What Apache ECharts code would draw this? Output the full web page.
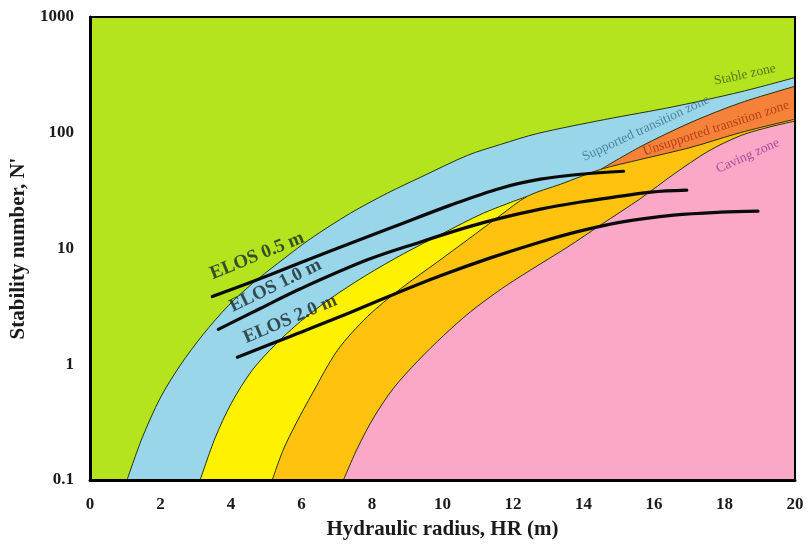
<!DOCTYPE html>
<html>
<head>
<meta charset="utf-8">
<title>Stability graph</title>
<script src="https://cdn.jsdelivr.net/npm/echarts@6/dist/echarts.min.js"></script>
<style>
  html, body { margin: 0; padding: 0; background: #ffffff; }
  #chart { width: 809px; height: 545px; }
</style>
</head>
<body>
<div id="chart"></div>
<script>
// Zone boundaries: [hydraulic radius (m), stability number N']
const stableLower = [
  [1.05, 0.1], [1.48, 0.231], [1.99, 0.509], [2.56, 0.98], [3.21, 1.81], [3.92, 3.2],
  [4.6, 4.96], [5.31, 7.37], [6.25, 12.1], [7.39, 20.2], [8.44, 30.1], [9.38, 41.3],
  [10.71, 63.8], [11.65, 79.3], [12.7, 98.6], [14.6, 130], [16.56, 168], [18.47, 226], [20, 300]
];
const supportedLower = [
  [3.125, 0.1], [3.55, 0.231], [4.01, 0.461], [4.6, 0.887], [5.26, 1.48], [5.97, 2.34],
  [6.82, 3.69], [7.81, 5.81], [8.89, 8.99], [10.03, 13.6], [11.16, 20.2], [12.41, 28.3],
  [13.35, 35.9], [14.49, 48.3], [15.63, 76.2], [17.05, 123], [18.47, 182], [20, 252]
];
const goldUpper = [
  [5.17, 0.1], [5.48, 0.182], [5.85, 0.31], [6.31, 0.562], [7.02, 1.32], [7.87, 2.58],
  [8.81, 4.49], [9.86, 7.67], [10.71, 11.9], [11.65, 19.4], [12.41, 28.3], [13.35, 35.9],
  [14.49, 48.3], [15.63, 58.9], [17.05, 74.8], [18.47, 100.6], [20, 131]
];
const cavingUpper = [
  [7.19, 0.1], [7.59, 0.189], [8.04, 0.343], [8.61, 0.621], [9.29, 1.06], [10.03, 1.77],
  [10.8, 2.85], [11.56, 4.24], [12.02, 5.27], [12.78, 7.37], [13.55, 10.3], [14.49, 16.0],
  [15.63, 27.2], [16.56, 43.8], [17.53, 69.0], [18.47, 94.8], [19.32, 113], [20, 126]
];
// Yellow band ends where it pinches out, orange band begins further right
const yellowEnd = 12.41;
const unsupportedStart = 14.49;

// Equivalent linear overbreak/slough curves
const elos05 = [
  [3.47, 3.84], [5.11, 5.93], [6.82, 9.53], [8.52, 15.0], [10.23, 23.7], [11.65, 33.2],
  [12.78, 39.7], [13.92, 43.8], [15.14, 46.5]
];
const elos10 = [
  [3.64, 2.0], [4.83, 3.03], [5.97, 4.49], [7.87, 7.98], [9.38, 11.4], [10.71, 15.3],
  [11.65, 18.3], [12.78, 21.9], [13.92, 25.2], [15.06, 28.3], [15.91, 30.7], [16.93, 31.9]
];
const elos20 = [
  [4.18, 1.15], [5.68, 1.74], [7.1, 2.58], [8.52, 3.91], [9.94, 5.81], [11.36, 8.3],
  [12.78, 11.4], [13.92, 14.2], [15.06, 16.9], [16.56, 19.4], [17.9, 20.6], [18.95, 21.0]
];

// Annotation texts: [x, y, text, rotation]
const curveLabels = [
  [4.74, 8.63, 'ELOS 0.5 m', 22],
  [5.26, 4.77, 'ELOS 1.0 m', 26],
  [5.68, 2.45, 'ELOS 2.0 m', 23]
];
const zoneLabels = [
  [18.58, 317, 'Stable zone', 12, '#3b5a1c'],
  [15.77, 109, 'Supported transition zone', 25, '#3f6f8f'],
  [17.76, 109, 'Unsupported transition zone', 18, '#a3300f'],
  [18.66, 63, 'Caving zone', 24, '#8b3a8f']
];

const xTicks = { min: 0, max: 20, interval: 2 };
const yTicks = { min: 0.1, max: 1000 };

const SERIF = "'Liberation Serif', 'Times New Roman', serif";
const EDGE = '#26330f';

function zone(name, data, color, z) {
  return {
    name: name, type: 'line', data: data, z: z,
    showSymbol: false, symbol: 'none', smooth: 0.3,
    lineStyle: { color: EDGE, width: 1 },
    areaStyle: { color: color, opacity: 1, origin: 'start' },
    silent: true, animation: false
  };
}
function elos(name, data) {
  return {
    name: name, type: 'line', data: data, z: 10,
    showSymbol: false, symbol: 'none', smooth: 0.35,
    lineStyle: { color: '#0a0a0a', width: 3.2, cap: 'round' },
    silent: true, animation: false
  };
}

const chart = echarts.init(document.getElementById('chart'), null, { renderer: 'canvas' });

const axisCommon = {
  axisTick: { show: false },
  splitLine: { show: false },
  z: 20
};

chart.setOption({
  animation: false,
  backgroundColor: '#ffffff',
  grid: {
    left: 90, right: 14, top: 17, bottom: 63,
    show: true, backgroundColor: '#b4e41e', borderWidth: 0
  },
  xAxis: [
    Object.assign({
      type: 'value', min: xTicks.min, max: xTicks.max, interval: xTicks.interval,
      position: 'bottom',
      axisLine: { show: true, onZero: false, lineStyle: { color: '#000', width: 3 } },
      axisLabel: { fontFamily: SERIF, fontWeight: 'bold', fontSize: 17, color: '#1a1a1a', margin: 16 },
      name: 'Hydraulic radius, HR (m)', nameLocation: 'middle', nameGap: 39,
      nameTextStyle: { fontFamily: SERIF, fontWeight: 'bold', fontSize: 21, color: '#1a1a1a' }
    }, axisCommon),
    Object.assign({
      type: 'value', min: xTicks.min, max: xTicks.max, interval: xTicks.interval,
      position: 'top',
      axisLine: { show: true, onZero: false, lineStyle: { color: '#000', width: 2 } },
      axisLabel: { show: false }
    }, axisCommon)
  ],
  yAxis: [
    Object.assign({
      type: 'log', logBase: 10, min: yTicks.min, max: yTicks.max,
      position: 'left',
      axisLine: { show: true, onZero: false, lineStyle: { color: '#000', width: 3 } },
      axisLabel: {
        fontFamily: SERIF, fontWeight: 'bold', fontSize: 17, color: '#1a1a1a', margin: 16,
        formatter: function (v) { return v < 1 ? v.toFixed(1) : String(Math.round(v)); }
      },
      name: "Stability number, N'", nameLocation: 'middle', nameGap: 55, nameRotate: 90,
      nameTextStyle: { fontFamily: SERIF, fontWeight: 'bold', fontSize: 21, color: '#1a1a1a' }
    }, axisCommon),
    Object.assign({
      type: 'log', logBase: 10, min: yTicks.min, max: yTicks.max,
      position: 'right',
      axisLine: { show: true, onZero: false, lineStyle: { color: '#000', width: 2 } },
      axisLabel: { show: false }
    }, axisCommon)
  ],
  series: [
    zone('Supported transition zone', stableLower, '#99d6ea', 2),
    zone('Yellow band', supportedLower.filter(p => p[0] <= yellowEnd), '#fff200', 3),
    zone('Unsupported transition zone', supportedLower.filter(p => p[0] >= unsupportedStart), '#f6823a', 4),
    zone('Gold band', goldUpper, '#ffc20e', 5),
    zone('Caving zone', cavingUpper, '#fba8c8', 6),
    elos('ELOS 0.5 m', elos05),
    elos('ELOS 1.0 m', elos10),
    elos('ELOS 2.0 m', elos20),
    {
      name: 'curve labels', type: 'scatter', z: 12, symbolSize: 0, silent: true,
      data: curveLabels.map(l => ({
        value: [l[0], l[1]],
        label: {
          show: true, position: 'inside', formatter: l[2], rotate: l[3],
          fontFamily: SERIF, fontWeight: 'bold', fontSize: 19, color: '#14282a'
        }
      }))
    },
    {
      name: 'zone labels', type: 'scatter', z: 12, symbolSize: 0, silent: true,
      data: zoneLabels.map(l => ({
        value: [l[0], l[1]],
        label: {
          show: true, position: 'inside', formatter: l[2], rotate: l[3],
          fontFamily: SERIF, fontSize: 13.5, color: l[4]
        }
      }))
    }
  ]
});
</script>
</body>
</html>
